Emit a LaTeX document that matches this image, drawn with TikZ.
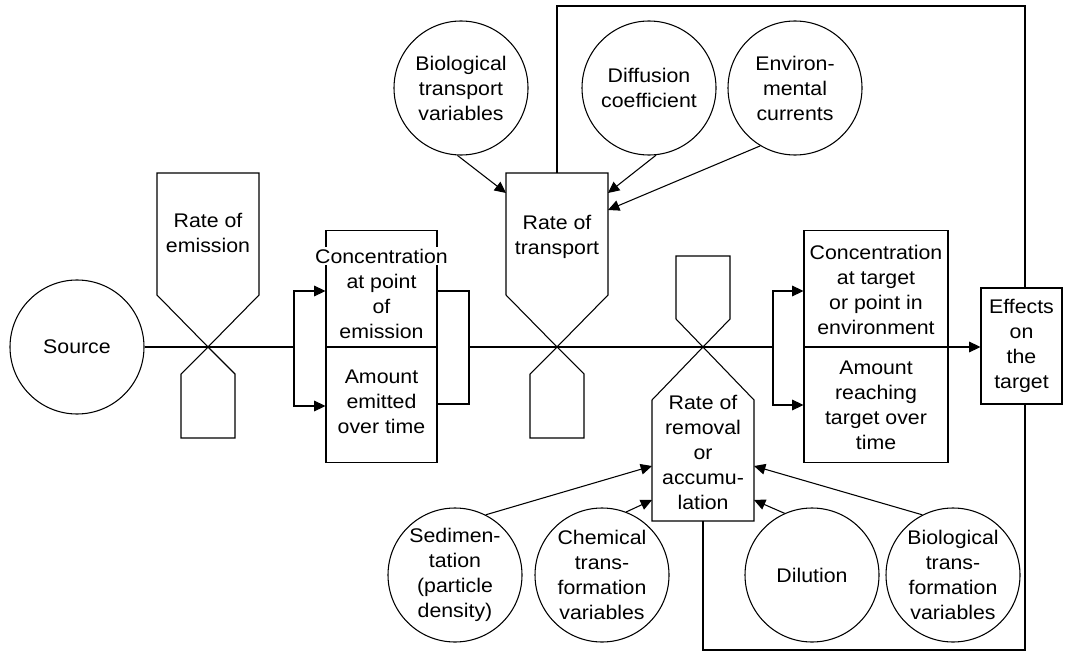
\documentclass[tikz,border=0pt]{standalone}
\usepackage{fontspec}
\setmainfont{Liberation Sans}[FakeStretch=1.08]
\usetikzlibrary{arrows.meta,calc}
\begin{document}
\begin{tikzpicture}[x=0.75pt,y=-0.75pt,
  line width=0.8pt,
  every node/.style={font=\fontsize{14.8}{18.75}\selectfont, align=center, inner sep=0pt},
  circ/.style={draw, circle, minimum size=100.5pt},
  boxn/.style={draw, rectangle},
  arr/.style={-{Triangle[length=8.5pt,width=8pt]}},
  ]
\useasboundingbox (0,0) rectangle (1066,652);

% valve centres
\coordinate (E) at (208,347);
\coordinate (T) at (557,347);
\coordinate (R) at (703,347);

% valves
\draw (E) -- ++(-51,-52) -- ++(0,-122) -- ++(102,0) -- ++(0,122) -- cycle;
\draw (E) -- ++(-27,27) -- ++(0,64) -- ++(54,0) -- ++(0,-64) -- cycle;
\draw (T) -- ++(-51,-52) -- ++(0,-122) -- ++(102,0) -- ++(0,122) -- cycle;
\draw (T) -- ++(-27,27) -- ++(0,64) -- ++(54,0) -- ++(0,-64) -- cycle;
\draw (R) -- ++(-27,-28) -- ++(0,-63) -- ++(54,0) -- ++(0,63) -- cycle;
\draw (R) -- ++(-51,53) -- ++(0,121) -- ++(102,0) -- ++(0,-121) -- cycle;

\node (emT) at (208,233) {Rate of\\emission};
\node (trT) at (557,237) {Rate of\\transport};
\node (rmT) at (703,452) {Rate of\\removal\\or\\accumu-\\lation};

% circles
\node[circ] (src) at (77,347) {};
\node at (src) {Source};
\node[circ] (bt) at (461,88) {};
\node at (bt) {Biological\\transport\\variables};
\node[circ] (dif) at (649,88) {};
\node at (dif) {Diffusion\\coefficient};
\node[circ] (env) at (795,88) {};
\node at (env) {Environ-\\mental\\currents};
\node[circ] (sed) at (455,575) {};
\node at (sed) {Sedimen-\\tation\\(particle\\density)};
\node[circ] (chem) at (602,575) {};
\node at (chem) {Chemical\\trans-\\formation\\variables};
\node[circ] (dil) at (812,575) {};
\node at (dil) {Dilution};
\node[circ] (biot) at (953,575) {};
\node at (biot) {Biological\\trans-\\formation\\variables};

% boxes
\node[boxn, minimum width=111*0.75pt, minimum height=232*0.75pt] (c1) at (381.5,346.5) {};
\draw (c1.west |- R) -- (c1.east |- R);
\node[fill=white, inner ysep=1pt, inner xsep=0.5pt] (c1a) at (381.5,256) {Concentration};
\node (c1b) at (381.5,306) {at point\\of\\emission};
\node (c1c) at (381.5,402) {Amount\\emitted\\over time};

\node[boxn, minimum width=144*0.75pt, minimum height=232*0.75pt] (c2) at (876,346.5) {};
\draw (c2.west |- R) -- (c2.east |- R);
\node (c2a) at (876,289.5) {Concentration\\at target\\or point in\\environment};
\node (c2b) at (876,405) {Amount\\reaching\\target over\\time};

\node[boxn, minimum width=81*0.75pt, minimum height=116*0.75pt] (eff) at (1021.5,346) {Effects\\on\\the\\target};

% main line and brackets
\coordinate (s1) at (294,347);
\coordinate (m1) at (469,347);
\coordinate (s2) at (773,347);
\draw (src.east) -- (s1);
\draw[arr] (s1) |- (c1.west |- 0,291);
\draw[arr] (s1) |- (c1.west |- 0,406);
\draw (c1.east |- 0,291) -| (m1) |- (c1.east |- 0,404);
\draw (m1) -- (s2);
\draw[arr] (s2) |- (c2.west |- 0,291);
\draw[arr] (s2) |- (c2.west |- 0,405);
\draw[arr] (c2.east |- R) -- (eff.west |- R);

% feedback loop
\coordinate (L1) at (557,6);
\coordinate (L2) at (1025,6);
\coordinate (L3) at (1025,650);
\coordinate (L4) at (703,650);
\draw (T |- 0,173) -- (L1) -- (L2) -- (L2 |- eff.north);
\draw (L2 |- eff.south) -- (L3) -- (L4) -- (R |- 0,521);

% influence arrows
\coordinate (tL1) at (506,193);
\coordinate (tR1) at (608,193);
\coordinate (tR2) at (608,210);
\coordinate (rL1) at (652,466);
\coordinate (rL2) at (652,500);
\coordinate (rR1) at (754,466);
\coordinate (rR2) at (754,500);
\draw[arr] (bt.-93) -- (tL1);
\draw[arr] (dif.-84) -- (tR1);
\draw[arr] (env.-121) -- (tR2);
\draw[arr] (sed.63) -- (rL1);
\draw[arr] (chem.69) -- (rL2);
\draw[arr] (dil.114) -- (rR2);
\draw[arr] (biot.117) -- (rR1);
\end{tikzpicture}
\end{document}
